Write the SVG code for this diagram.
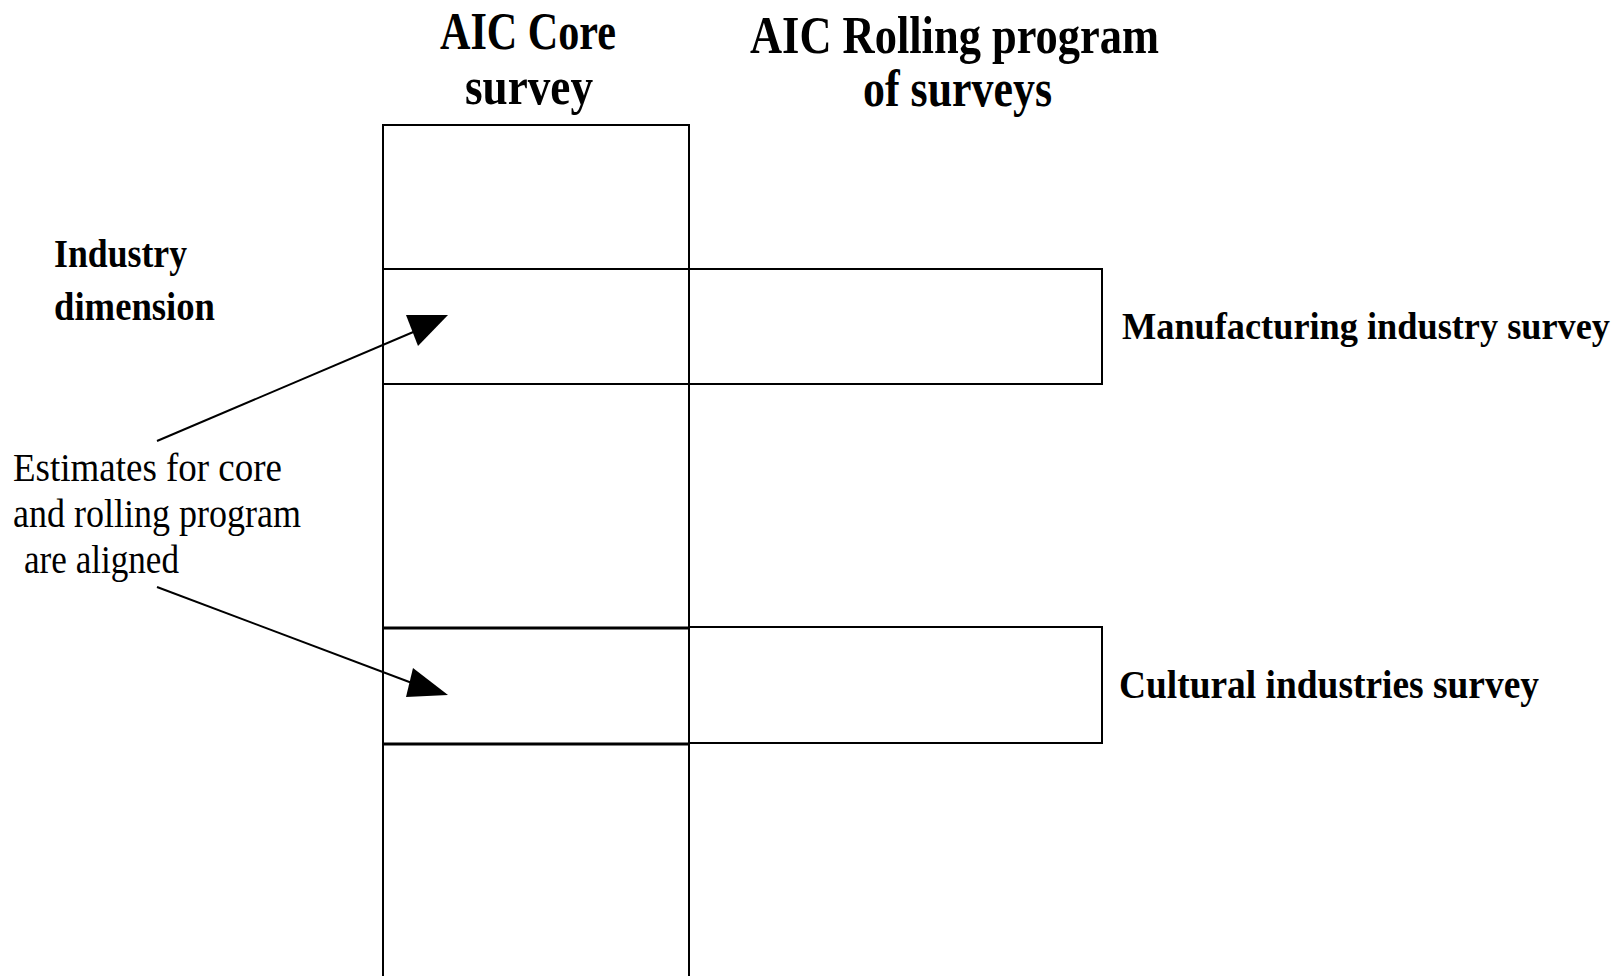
<svg xmlns="http://www.w3.org/2000/svg" width="1624" height="976" viewBox="0 0 1624 976">
<style>
.ln{fill:none;stroke:#000;stroke-width:2}
.thk{fill:none;stroke:#000;stroke-width:3.2}
.hd{font-family:"Liberation Serif","Times New Roman",serif;font-weight:bold;font-size:52px;fill:#000}
.bl{font-family:"Liberation Serif","Times New Roman",serif;font-weight:bold;font-size:40px;fill:#000}
.rg{font-family:"Liberation Serif","Times New Roman",serif;font-size:39px;fill:#000}
</style>
<rect width="1624" height="976" fill="#fff"/>
<g id="heading-core">
<text class="hd" x="440" y="49" textLength="176" lengthAdjust="spacingAndGlyphs">AIC Core</text>
<text class="hd" x="465" y="104" textLength="128" lengthAdjust="spacingAndGlyphs">survey</text>
</g>
<g id="heading-rolling">
<text class="hd" x="750" y="53" textLength="409" lengthAdjust="spacingAndGlyphs">AIC Rolling program</text>
<text class="hd" x="863" y="106" textLength="189" lengthAdjust="spacingAndGlyphs">of surveys</text>
</g>
<g id="core-column">
<path class="ln" d="M383,976 V125 H689 V976"/>
<line class="ln" x1="383" y1="269" x2="689" y2="269"/>
<line class="ln" x1="383" y1="384" x2="689" y2="384"/>
<line class="thk" x1="383" y1="628" x2="689" y2="628"/>
<line class="thk" x1="383" y1="744" x2="689" y2="744"/>
</g>
<g id="manufacturing">
<rect class="ln" x="689" y="269" width="413" height="115"/>
<text class="bl" x="1122" y="339" style="font-size:37px" textLength="488" lengthAdjust="spacingAndGlyphs">Manufacturing industry survey</text>
</g>
<g id="cultural">
<rect class="ln" x="689" y="627" width="413" height="116"/>
<text class="bl" x="1119" y="698" textLength="420" lengthAdjust="spacingAndGlyphs">Cultural industries survey</text>
</g>
<g id="industry-dimension">
<text class="bl" x="54" y="267" textLength="133" lengthAdjust="spacingAndGlyphs">Industry</text>
<text class="bl" x="54" y="320" textLength="161" lengthAdjust="spacingAndGlyphs">dimension</text>
</g>
<g id="estimates-note">
<text class="rg" x="13" y="481" textLength="269" lengthAdjust="spacingAndGlyphs">Estimates for core</text>
<text class="rg" x="13" y="527" textLength="288" lengthAdjust="spacingAndGlyphs">and rolling program</text>
<text class="rg" x="24" y="573" textLength="155" lengthAdjust="spacingAndGlyphs">are aligned</text>
</g>
<g id="connectors">
<line class="ln" x1="157" y1="441" x2="418" y2="330"/>
<polygon points="406,315 448,315 418,346" fill="#000"/>
<line class="ln" x1="157" y1="587" x2="412" y2="683"/>
<polygon points="413,668 448,695 406,697" fill="#000"/>
</g>
</svg>
